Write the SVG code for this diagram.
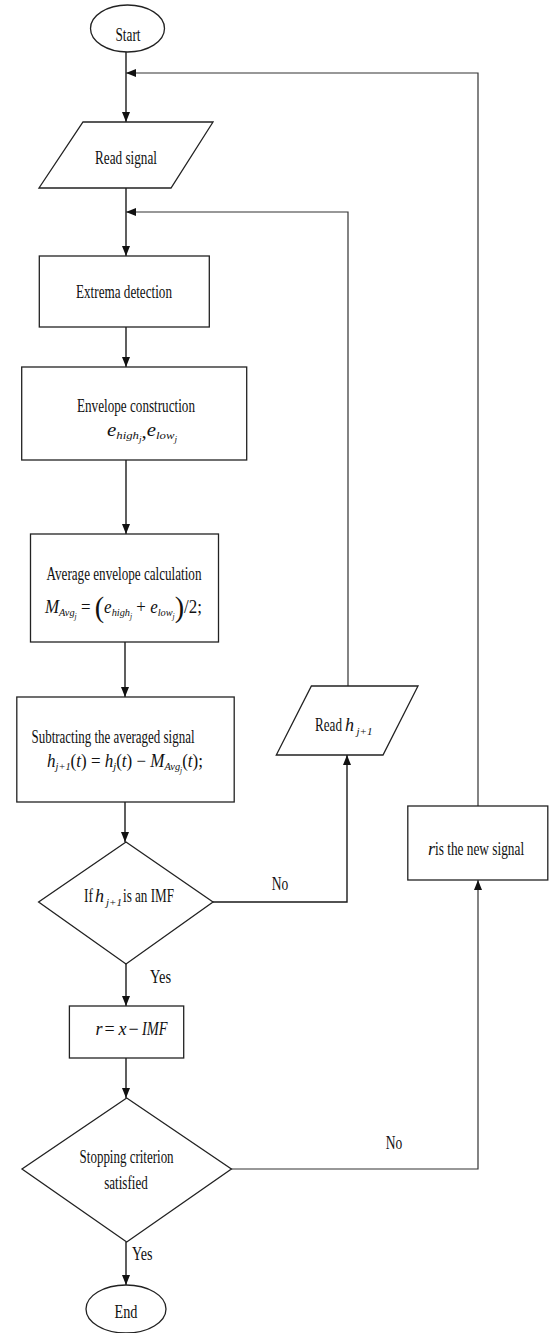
<svg xmlns="http://www.w3.org/2000/svg" width="549" height="1333" viewBox="0 0 549 1333">
<style>
.shape{fill:#fff;stroke:#222;stroke-width:1.3}
.t{font-family:"Liberation Serif","Times New Roman",serif;font-size:18px;fill:#111}
.c{text-anchor:middle}
.m{font-family:"Liberation Serif","Times New Roman",serif;font-size:18px;font-style:italic;fill:#111}
.s{font-size:11px}
.n{font-style:normal}
.ln{fill:none;stroke:#1a1a1a;stroke-width:1.4}
.lp{fill:none;stroke:#333;stroke-width:1.2}
</style>
<defs>
<marker id="ah" markerUnits="userSpaceOnUse" markerWidth="10" markerHeight="8" refX="10" refY="4" orient="auto">
<path d="M0,0 L10,4 L0,8 z" fill="#111"/>
</marker>
</defs>
<rect width="549" height="1333" fill="#fff"/>
<g id="connectors">
<line class="ln" x1="126" y1="52" x2="126" y2="122" marker-end="url(#ah)"/>
<line class="ln" x1="126" y1="188" x2="126" y2="256" marker-end="url(#ah)"/>
<line class="ln" x1="126" y1="327" x2="126" y2="367" marker-end="url(#ah)"/>
<line class="ln" x1="126" y1="460" x2="126" y2="534" marker-end="url(#ah)"/>
<line class="ln" x1="125" y1="642" x2="125" y2="697" marker-end="url(#ah)"/>
<line class="ln" x1="125" y1="802" x2="125" y2="842" marker-end="url(#ah)"/>
<line class="ln" x1="126" y1="964" x2="126" y2="1006" marker-end="url(#ah)"/>
<line class="ln" x1="126" y1="1058" x2="126" y2="1098" marker-end="url(#ah)"/>
<line class="ln" x1="126" y1="1242" x2="126" y2="1285" marker-end="url(#ah)"/>
<polyline class="ln" points="213,902 347,902 347,755" marker-end="url(#ah)"/>
<polyline class="lp" points="348,686 348,212 126,212" marker-end="url(#ah)"/>
<polyline class="lp" points="231,1169 478,1169 478,880" marker-end="url(#ah)"/>
<polyline class="lp" points="478,806 478,73 126,73" marker-end="url(#ah)"/>
</g>
<g id="start">
<ellipse class="shape" cx="127.5" cy="28.5" rx="37" ry="23.5"/>
<text class="t c" x="128" y="40.5" textLength="25" lengthAdjust="spacingAndGlyphs">Start</text>
</g>
<g id="read-signal">
<polygon class="shape" points="83,122 213,122 171,188 39,188"/>
<text class="t c" x="126" y="164" textLength="62" lengthAdjust="spacingAndGlyphs">Read signal</text>
</g>
<g id="extrema">
<rect class="shape" x="39.3" y="256" width="170" height="71"/>
<text class="t c" x="124" y="298" textLength="96" lengthAdjust="spacingAndGlyphs">Extrema detection</text>
</g>
<g id="envelope">
<rect class="shape" x="21.7" y="367" width="225" height="93"/>
<text class="t c" x="136" y="412" textLength="118" lengthAdjust="spacingAndGlyphs">Envelope construction</text>
<text class="m" x="107" y="436" textLength="70" lengthAdjust="spacingAndGlyphs">e<tspan font-size="11" dy="3">high</tspan><tspan font-size="8" dy="3">j</tspan><tspan class="n" dy="-4">,</tspan><tspan dy="-2">e</tspan><tspan font-size="11" dy="3">low</tspan><tspan font-size="8" dy="3">j</tspan></text>
</g>
<g id="average">
<rect class="shape" x="30.5" y="534" width="188" height="108"/>
<text class="t c" x="124" y="580" textLength="155" lengthAdjust="spacingAndGlyphs">Average envelope calculation</text>
<text class="m" x="45" y="613" textLength="157" lengthAdjust="spacingAndGlyphs">M<tspan font-size="11" dy="3">Avg</tspan><tspan font-size="8" dy="3">j</tspan><tspan class="n" dy="-6"> = </tspan><tspan class="n" font-size="30" dy="4">(</tspan><tspan dy="-4">e</tspan><tspan font-size="11" dy="3">high</tspan><tspan font-size="8" dy="3">j</tspan><tspan class="n" dy="-6"> + </tspan><tspan>e</tspan><tspan font-size="11" dy="3">low</tspan><tspan font-size="8" dy="3">j</tspan><tspan class="n" font-size="30" dy="-2">)</tspan><tspan class="n" dy="-4">/2;</tspan></text>
</g>
<g id="subtracting">
<rect class="shape" x="16.8" y="697" width="217.4" height="105"/>
<text class="t c" x="113" y="742.5" textLength="163" lengthAdjust="spacingAndGlyphs">Subtracting the averaged signal</text>
<text class="m" x="47" y="767" textLength="156" lengthAdjust="spacingAndGlyphs">h<tspan font-size="11" dy="3">j+1</tspan><tspan class="n" dy="-3">(</tspan>t<tspan class="n">) = </tspan>h<tspan font-size="11" dy="3">j</tspan><tspan class="n" dy="-3">(</tspan>t<tspan class="n">) − </tspan>M<tspan font-size="11" dy="3">Avg</tspan><tspan font-size="8" dy="3">j</tspan><tspan class="n" dy="-6">(</tspan>t<tspan class="n">);</tspan></text>
</g>
<g id="read-h">
<polygon class="shape" points="311.4,686 418,686 383,755 276.3,755"/>
<text class="t" transform="translate(315 731) scale(0.73 1)" x="0" y="0">Read</text>
<text class="m" x="345" y="731">h</text>
<text class="m s" x="356.5" y="735">j+1</text>
</g>
<g id="new-signal">
<rect class="shape" x="407.8" y="806" width="140" height="74"/>
<text class="m" x="428" y="855">r</text>
<text class="t" transform="translate(435 855) scale(0.74 1)" x="0" y="0">is the new signal</text>
</g>
<g id="imf-check">
<polygon class="shape" points="126,842 213,902 126,964 38.6,902"/>
<text class="t" x="84" y="901.7" textLength="9" lengthAdjust="spacingAndGlyphs">If</text>
<text class="m" x="95" y="901.7">h</text>
<text class="m s" x="106" y="905.5">j+1</text>
<text class="t" x="123" y="901.7" textLength="51" lengthAdjust="spacingAndGlyphs">is an IMF</text>
<text class="t" x="271.7" y="890" textLength="16.5" lengthAdjust="spacingAndGlyphs">No</text>
<text class="t" x="150" y="983" textLength="21" lengthAdjust="spacingAndGlyphs">Yes</text>
</g>
<g id="residue">
<rect class="shape" x="69.4" y="1006" width="114.3" height="52"/>
<text class="m" x="95.4" y="1035">r</text>
<text class="t" x="104.5" y="1035">=</text>
<text class="m" x="118.5" y="1035">x</text>
<text class="t" x="128.5" y="1035">−</text>
<text class="m" x="142" y="1035" textLength="25.6" lengthAdjust="spacingAndGlyphs">IMF</text>
</g>
<g id="stop-check">
<polygon class="shape" points="126.7,1098 231.4,1169 126.7,1242 22,1169"/>
<text class="t c" x="126.6" y="1162.7" textLength="94" lengthAdjust="spacingAndGlyphs">Stopping criterion</text>
<text class="t c" x="126" y="1189" textLength="43.5" lengthAdjust="spacingAndGlyphs">satisfied</text>
<text class="t" x="385.7" y="1149" textLength="16.5" lengthAdjust="spacingAndGlyphs">No</text>
<text class="t" x="132" y="1260" textLength="20.5" lengthAdjust="spacingAndGlyphs">Yes</text>
</g>
<g id="end">
<ellipse class="shape" cx="126" cy="1309" rx="40" ry="24"/>
<text class="t c" x="126" y="1318" textLength="23" lengthAdjust="spacingAndGlyphs">End</text>
</g>
</svg>
